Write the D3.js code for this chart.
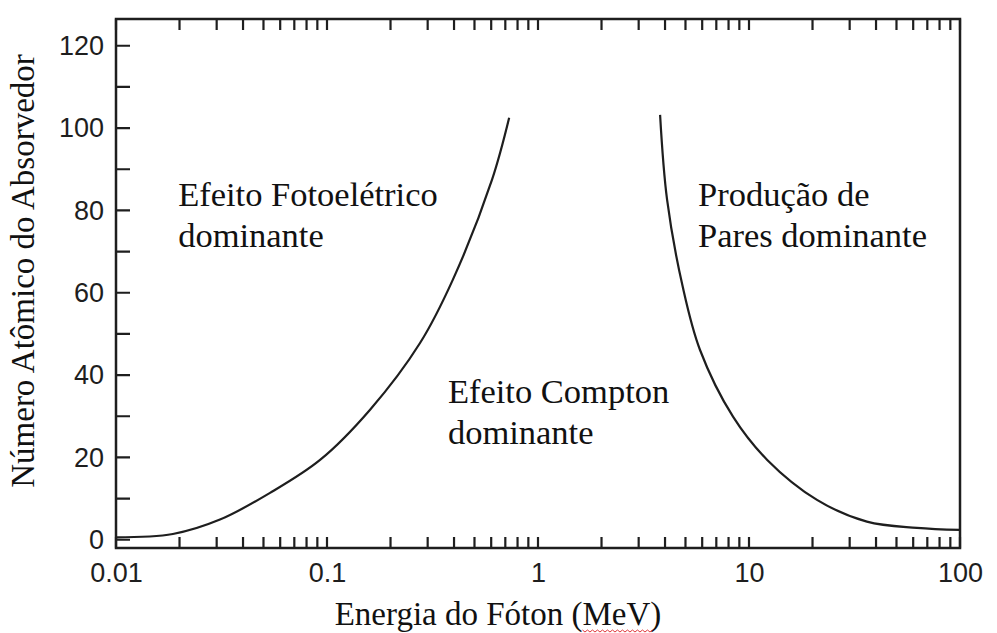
<!DOCTYPE html>
<html>
<head>
<meta charset="utf-8">
<script src="https://cdn.jsdelivr.net/npm/d3@7"></script>
<style>
    body { margin: 0; background: #fff; }
    svg { display: block; }
    .tick text { font-family: "Liberation Sans", Arial, sans-serif; font-size: 27px; fill: #1e1e1e; }
    .label { font-family: "Liberation Serif", "Times New Roman", serif; font-size: 34.5px; fill: #111; }
</style>
</head>
<body>
<svg id="chart" width="997" height="633"></svg>
<script>
// photoelectric / compton boundary (energy in MeV, atomic number Z)
const photoEnergy = [0.01, 0.0186, 0.0311, 0.0537, 0.0927, 0.160, 0.276, 0.395, 0.605, 0.73];
const photoZ      = [0.6, 1.4, 4.9, 11.4, 19.4, 31.6, 47.8, 63.2, 87.4, 102.5];

// compton / pair production boundary
const pairEnergy = [3.79, 4.09, 4.85, 5.86, 8.40, 12.2, 21.0, 36.2, 62.5, 100];
const pairZ      = [103.2, 82.6, 61.5, 46.1, 29.9, 19.4, 9.7, 4.4, 2.9, 2.4];

const decades = [0.01, 0.1, 1, 10, 100];
const decadeLabels = ["0.01", "0.1", "1", "10", "100"];
const minorSteps = [1, 2, 3, 4, 5, 6, 7, 8, 9];
const zTicks = [0, 10, 20, 30, 40, 50, 60, 70, 80, 90, 100, 110, 120];

const regionLines = [
    { x: 0.0197, z: 81, lines: ["Efeito Fotoelétrico", "dominante"] },
    { x: 0.374, z: 33.3, lines: ["Efeito Compton", "dominante"] },
    { x: 5.73, z: 81, lines: ["Produção de", "Pares dominante"] }
];

const svg = d3.select("#chart");
const box = { left: 116, right: 960, top: 19, bottom: 548 };

const xScale = d3.scaleLog().domain([0.01, 100]).range([box.left, box.right]);
const yScale = d3.scaleLinear().domain([-2, 126.5]).range([box.bottom, box.top]);

// minor ticks 1..9 in each decade
const xTicks = d3.merge(decades.slice(0, 4).map(d => minorSteps.map(k => d * k))).concat([100]);

const fmtX = v => {
    const i = decades.findIndex(d => Math.abs(d - v) / d < 1e-6);
    return i >= 0 ? decadeLabels[i] : "";
};

// tick labels from the axes
svg.append("g")
    .attr("transform", `translate(0,${box.bottom})`)
    .call(d3.axisBottom(xScale).tickValues(decades).tickFormat(fmtX).tickSize(0).tickPadding(15))
    .call(g => g.select(".domain").remove())
    .call(g => g.selectAll(".tick text").attr("dy", "0.71em"));

svg.append("g")
    .attr("transform", `translate(${box.left},0)`)
    .call(d3.axisLeft(yScale).tickValues(zTicks.filter(d => d % 20 === 0)).tickSize(0).tickPadding(12))
    .call(g => g.select(".domain").remove());

// frame
svg.append("rect")
    .attr("x", box.left).attr("y", box.top)
    .attr("width", box.right - box.left).attr("height", box.bottom - box.top)
    .attr("fill", "none")
    .attr("stroke", "#1e1e1e")
    .attr("stroke-width", 2.5);

// inward tick marks (bottom, top, left)
const tickPath = d3.path();
xTicks.forEach(v => {
    const px = xScale(v);
    tickPath.moveTo(px, box.bottom);
    tickPath.lineTo(px, box.bottom - 11);
    tickPath.moveTo(px, box.top);
    tickPath.lineTo(px, box.top + 11);
});
zTicks.forEach(v => {
    const py = yScale(v);
    tickPath.moveTo(box.left, py);
    tickPath.lineTo(box.left + 14, py);
});
svg.append("path")
    .attr("d", tickPath.toString())
    .attr("fill", "none")
    .attr("stroke", "#1e1e1e")
    .attr("stroke-width", 2.2);

const line = d3.line()
    .x(d => xScale(d[0]))
    .y(d => yScale(d[1]))
    .curve(d3.curveCatmullRom.alpha(0.5));

[[photoEnergy, photoZ], [pairEnergy, pairZ]].forEach(([es, zs]) => {
    svg.append("path")
        .datum(es.map((e, i) => [e, zs[i]]))
        .attr("d", line)
        .attr("fill", "none")
        .attr("stroke", "#1e1e1e")
        .attr("stroke-width", 2.2);
});

// region annotations
regionLines.forEach(r => {
    const t = svg.append("text")
        .attr("class", "label")
        .attr("x", xScale(r.x))
        .attr("y", yScale(r.z));
    r.lines.forEach((s, i) => {
        t.append("tspan")
            .attr("x", xScale(r.x))
            .attr("dy", i === 0 ? 0 : 41)
            .text(s);
    });
});

// axis titles
svg.append("text")
    .attr("class", "label")
    .style("font-size", "33px")
    .attr("transform", "translate(34,271) rotate(-90)")
    .attr("text-anchor", "middle")
    .text("Número Atômico do Absorvedor");

const xTitle = svg.append("text")
    .attr("class", "label")
    .style("font-size", "33px")
    .attr("x", 498)
    .attr("y", 625)
    .attr("text-anchor", "middle");
xTitle.append("tspan").text("Energia do Fóton (");
const mev = xTitle.append("tspan").text("MeV");
xTitle.append("tspan").text(")");

// red spell-check squiggle under MeV
const bb = mev.node().getBBox();
let sq = `M${bb.x},${630}`;
for (let px = bb.x, k = 0; px < bb.x + bb.width; px += 2.5, k++) {
    sq += `L${px + 2.5},${k % 2 ? 630 : 632}`;
}
svg.append("path")
    .attr("d", sq)
    .attr("fill", "none")
    .attr("stroke", "#e0363c")
    .attr("stroke-width", 1);
</script>
</body>
</html>
